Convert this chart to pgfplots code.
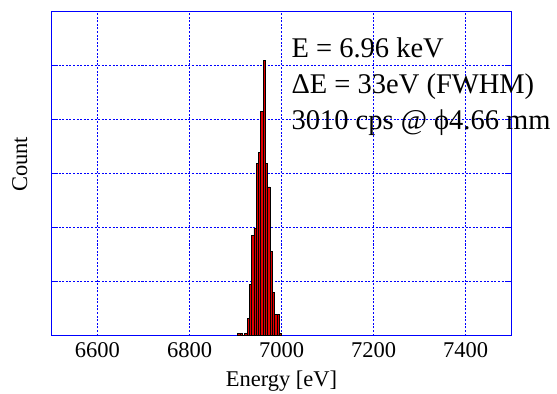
\documentclass[border=0pt]{standalone}
\usepackage{pgfplots}
\pgfplotsset{compat=1.18}
\usepackage{fontspec}
\setmainfont{Liberation Serif}
\definecolor{axblue}{RGB}{0,0,255}
\definecolor{barred}{RGB}{225,0,0}
\begin{document}
\begin{tikzpicture}
\path[use as bounding box] (-51.5bp,-58.5bp) rectangle (505.5bp,335.5bp);
\begin{axis}[
  at={(0,0)}, anchor=south west,
  scale only axis, width=460bp, height=324bp,
  xmin=6500, xmax=7500, ymin=0, ymax=6,
  xtick={6600,6800,7000,7200,7400},
  xticklabels={},
  ytick={1,2,3,4,5}, yticklabels={},
  grid=major,
  grid style={color=axblue, line width=1bp, dash pattern=on 2bp off 1.6bp},
  major grid style={color=axblue, line width=1bp, dash pattern=on 2bp off 1.6bp},
  axis line style={axblue, line width=1bp},
  xtick style={draw=none},
  ytick style={axblue, line width=1bp},
  tick align=inside, ytick pos=both, xtick pos=bottom,
  major tick length=7bp,
  xlabel={Energy [eV]}, ylabel={Count},
  every axis x label/.style={at={(axis description cs:0.5,0)}, anchor=center, yshift=-45.5bp, font=\fontsize{22.5bp}{27bp}\selectfont},
  every axis y label/.style={at={(axis description cs:-0.069,0.528)}, rotate=90, anchor=center, font=\fontsize{22.5bp}{27bp}\selectfont},
  clip=false,
]
\addplot[ybar interval, fill=barred, draw=black, line width=0.8bp] coordinates {
(6905,0.04) (6910,0.04) (6915,0) (6920,0.04) (6925,0.31) (6930,0.94) (6935,1.85)
(6940,1.99) (6945,3.19) (6950,3.39) (6955,4.15) (6960,5.09) (6965,3.19)
(6970,2.75) (6975,1.55) (6980,0.80) (6985,0.39) (6990,0.39) (6995,0.04) (7000,0)
};
\node[anchor=base, inner sep=0pt, yshift=-21.6bp, font=\fontsize{22.5bp}{27bp}\selectfont] at (axis cs:6600,0) {6600};
\node[anchor=base, inner sep=0pt, yshift=-21.6bp, font=\fontsize{22.5bp}{27bp}\selectfont] at (axis cs:6800,0) {6800};
\node[anchor=base, inner sep=0pt, yshift=-21.6bp, font=\fontsize{22.5bp}{27bp}\selectfont] at (axis cs:7000,0) {7000};
\node[anchor=base, inner sep=0pt, yshift=-21.6bp, font=\fontsize{22.5bp}{27bp}\selectfont] at (axis cs:7200,0) {7200};
\node[anchor=base, inner sep=0pt, yshift=-21.6bp, font=\fontsize{22.5bp}{27bp}\selectfont] at (axis cs:7400,0) {7400};
\node[anchor=base west, inner sep=0pt, font=\fontsize{28.5bp}{34bp}\selectfont] at (rel axis cs:0.5215,0.8566) {E = 6.96 keV};
\node[anchor=base west, inner sep=0pt, font=\fontsize{28.5bp}{34bp}\selectfont] at (rel axis cs:0.5215,0.7458) {ΔE = 33eV (FWHM)};
\node[anchor=base west, inner sep=0pt, font=\fontsize{28.5bp}{34bp}\selectfont] at (rel axis cs:0.5215,0.635) {3010 cps @ ϕ4.66 mm};
\end{axis}
\end{tikzpicture}
\end{document}
